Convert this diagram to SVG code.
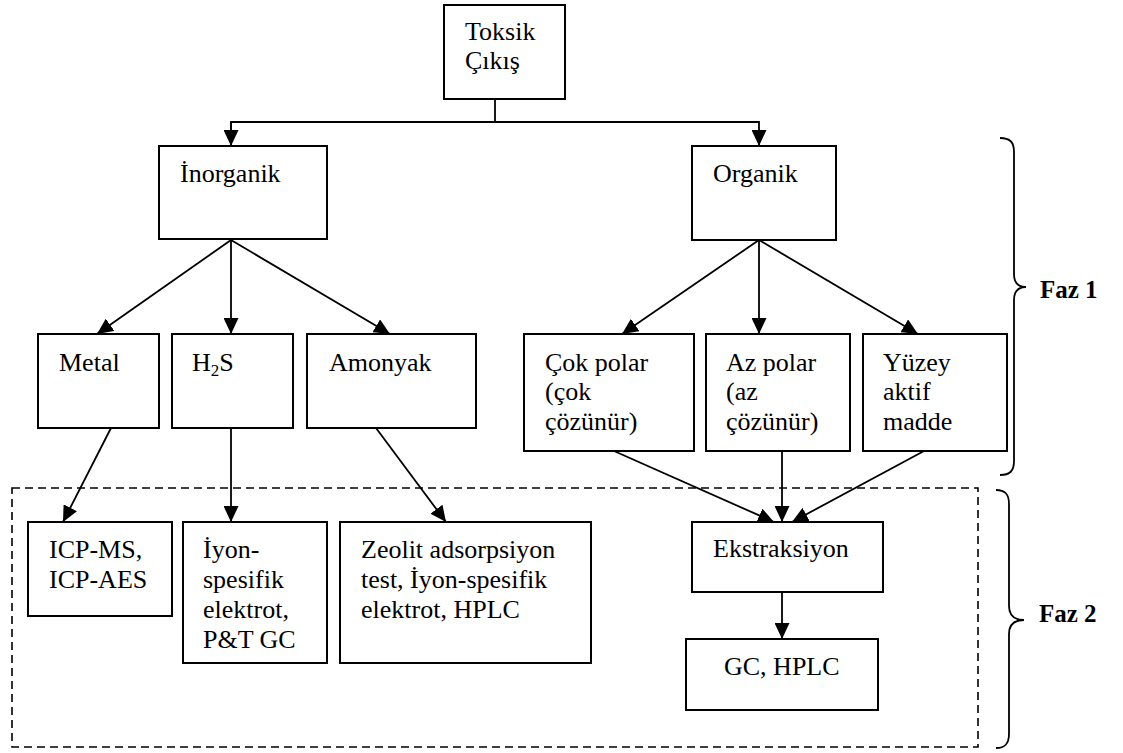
<svg xmlns="http://www.w3.org/2000/svg" width="1123" height="753" viewBox="0 0 1123 753">
  <style>
    .box { fill: #ffffff; stroke: #000000; stroke-width: 2; }
    .lbl { font-family: "Liberation Serif", "Times New Roman", serif; font-size: 26px; fill: #000000; }
    .phase { font-family: "Liberation Serif", "Times New Roman", serif; font-size: 25px; font-weight: bold; fill: #000000; }
    .edge { fill: none; stroke: #000000; stroke-width: 1.8; }
    .brace { fill: none; stroke: #000000; stroke-width: 1.8; }
    .frame { fill: none; stroke: #000000; stroke-width: 1.6; stroke-dasharray: 8 5; }
  </style>
  <defs>
    <marker id="arrow" markerUnits="userSpaceOnUse" markerWidth="16" markerHeight="15" refX="16" refY="7.5" orient="auto">
      <path d="M0,0 L16,7.5 L0,15 Z" fill="#000000"/>
    </marker>
  </defs>
  <rect width="1123" height="753" fill="#ffffff"/>

  <!-- phase 2 frame -->
  <rect class="frame" x="12" y="488" width="966" height="259"/>

  <!-- connectors -->
  <g id="connectors">
    <polyline class="edge" points="495,99 495,122"/>
    <polyline class="edge" points="231,146 231,122 759,122 759,146" marker-end="url(#arrow)"/>
    <line class="edge" x1="231" y1="122" x2="231" y2="146" marker-end="url(#arrow)"/>

    <line class="edge" x1="231" y1="240" x2="97" y2="334" marker-end="url(#arrow)"/>
    <line class="edge" x1="231" y1="240" x2="231" y2="334" marker-end="url(#arrow)"/>
    <line class="edge" x1="231" y1="240" x2="390" y2="334" marker-end="url(#arrow)"/>

    <line class="edge" x1="759" y1="240" x2="622" y2="334" marker-end="url(#arrow)"/>
    <line class="edge" x1="759" y1="240" x2="759" y2="334" marker-end="url(#arrow)"/>
    <line class="edge" x1="759" y1="240" x2="918" y2="334" marker-end="url(#arrow)"/>

    <line class="edge" x1="111" y1="428" x2="63" y2="522" marker-end="url(#arrow)"/>
    <line class="edge" x1="231" y1="428" x2="231" y2="522" marker-end="url(#arrow)"/>
    <line class="edge" x1="376" y1="428" x2="446" y2="522" marker-end="url(#arrow)"/>

    <line class="edge" x1="614" y1="451" x2="774" y2="522" marker-end="url(#arrow)"/>
    <line class="edge" x1="782" y1="451" x2="782" y2="522" marker-end="url(#arrow)"/>
    <line class="edge" x1="924" y1="451" x2="792" y2="522" marker-end="url(#arrow)"/>

    <line class="edge" x1="782" y1="592" x2="782" y2="639" marker-end="url(#arrow)"/>
  </g>

  <!-- nodes -->
  <g id="toksik">
    <rect class="box" x="444" y="5" width="121" height="94"/>
    <text class="lbl" x="465" y="40">Toksik</text>
    <text class="lbl" x="465" y="69">Çıkış</text>
  </g>
  <g id="inorganik">
    <rect class="box" x="159" y="146" width="168" height="93"/>
    <text class="lbl" x="180" y="182">İnorganik</text>
  </g>
  <g id="organik">
    <rect class="box" x="692" y="146" width="144" height="94"/>
    <text class="lbl" x="713" y="182">Organik</text>
  </g>
  <g id="metal">
    <rect class="box" x="38" y="334" width="121" height="94"/>
    <text class="lbl" x="59" y="371">Metal</text>
  </g>
  <g id="h2s">
    <rect class="box" x="172" y="334" width="121" height="94"/>
    <text class="lbl" x="192" y="371">H<tspan font-size="17" dy="5">2</tspan><tspan dy="-5">S</tspan></text>
  </g>
  <g id="amonyak">
    <rect class="box" x="307" y="334" width="169" height="94"/>
    <text class="lbl" x="329" y="371">Amonyak</text>
  </g>
  <g id="cok-polar">
    <rect class="box" x="524" y="334" width="170" height="117"/>
    <text class="lbl" x="545" y="371">Çok polar</text>
    <text class="lbl" x="545" y="400">(çok</text>
    <text class="lbl" x="545" y="430">çözünür)</text>
  </g>
  <g id="az-polar">
    <rect class="box" x="706" y="334" width="144" height="117"/>
    <text class="lbl" x="726" y="371">Az polar</text>
    <text class="lbl" x="726" y="400">(az</text>
    <text class="lbl" x="726" y="430">çözünür)</text>
  </g>
  <g id="yuzey-aktif">
    <rect class="box" x="863" y="334" width="144" height="117"/>
    <text class="lbl" x="883" y="371">Yüzey</text>
    <text class="lbl" x="883" y="400">aktif</text>
    <text class="lbl" x="883" y="430">madde</text>
  </g>
  <g id="icp">
    <rect class="box" x="28" y="522" width="144" height="94"/>
    <text class="lbl" x="49" y="558">ICP-MS,</text>
    <text class="lbl" x="49" y="588">ICP-AES</text>
  </g>
  <g id="iyon-spesifik">
    <rect class="box" x="183" y="522" width="144" height="141"/>
    <text class="lbl" x="203" y="558">İyon-</text>
    <text class="lbl" x="203" y="588">spesifik</text>
    <text class="lbl" x="203" y="618">elektrot,</text>
    <text class="lbl" x="203" y="648">P&amp;T GC</text>
  </g>
  <g id="zeolit">
    <rect class="box" x="340" y="522" width="251" height="141"/>
    <text class="lbl" x="361" y="558">Zeolit adsorpsiyon</text>
    <text class="lbl" x="361" y="588">test, İyon-spesifik</text>
    <text class="lbl" x="361" y="618">elektrot, HPLC</text>
  </g>
  <g id="ekstraksiyon">
    <rect class="box" x="692" y="522" width="191" height="70"/>
    <text class="lbl" x="713" y="557">Ekstraksiyon</text>
  </g>
  <g id="gc-hplc">
    <rect class="box" x="686" y="639" width="192" height="71"/>
    <text class="lbl" x="724" y="675">GC, HPLC</text>
  </g>

  <!-- phase braces -->
  <g id="faz1">
    <path class="brace" d="M1000,138 C1010,138 1014,142 1014,152 L1014,274 C1014,283 1018,287 1026,287 C1018,287 1014,291 1014,300 L1014,461 C1014,471 1010,475 1000,475"/>
    <text class="phase" x="1040" y="298">Faz 1</text>
  </g>
  <g id="faz2">
    <path class="brace" d="M996,490 C1005,490 1009,494 1009,504 L1009,606 C1009,615 1014,620 1024,620 C1014,620 1009,625 1009,634 L1009,734 C1009,744 1005,748 996,748"/>
    <text class="phase" x="1039" y="622">Faz 2</text>
  </g>
</svg>
